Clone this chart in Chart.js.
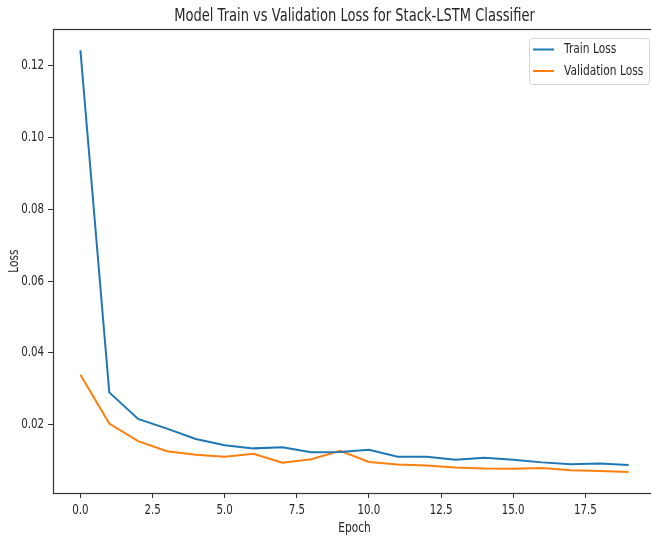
<!DOCTYPE html>
<html>
<head>
<meta charset="utf-8">
<script src="https://cdn.jsdelivr.net/npm/chart.js@4.4.0/dist/chart.umd.min.js"></script>
<style>
  html, body { margin: 0; padding: 0; background: #fff; overflow: hidden; width: 651px; height: 537px; }
  #wrap { position: absolute; left: 0; top: 0; width: 709px; height: 537px; }
</style>
</head>
<body>
<div id="wrap"><canvas id="c" width="709" height="537"></canvas></div>
<script>
const epochs = [0,1,2,3,4,5,6,7,8,9,10,11,12,13,14,15,16,17,18,19];
const trainLoss = [0.1243,0.0290,0.0216,0.0189,0.0160,0.0143,0.0134,0.0137,0.0123,0.0124,0.0130,0.0111,0.0111,0.0102,0.0108,0.0102,0.0095,0.0090,0.0092,0.0088];
const valLoss = [0.0339,0.0203,0.0154,0.0126,0.0116,0.0111,0.0119,0.0094,0.0104,0.0127,0.0096,0.0089,0.0086,0.0081,0.0078,0.0077,0.0079,0.0073,0.0071,0.0068];
const xTicks = [0, 2.5, 5, 7.5, 10, 12.5, 15, 17.5];
const yTicks = [0.02, 0.04, 0.06, 0.08, 0.10, 0.12];
const seriesNames = ['Train Loss', 'Validation Loss'];
const seriesColors = ['#1f77b4', '#ff7f0e'];

// The reference text is horizontally condensed; render text narrower.
const SX = 0.76;
(function () {
  const proto = CanvasRenderingContext2D.prototype;
  const fill = proto.fillText;
  const measure = proto.measureText;
  proto.fillText = function (t, x, y) {
    this.save();
    this.translate(x, y);
    this.scale(SX, 1);
    fill.call(this, t, 0, 0);
    this.restore();
  };
  proto.measureText = function (t) {
    const m = measure.call(this, t);
    return {
      width: m.width * SX,
      actualBoundingBoxAscent: m.actualBoundingBoxAscent,
      actualBoundingBoxDescent: m.actualBoundingBoxDescent,
      actualBoundingBoxLeft: m.actualBoundingBoxLeft * SX,
      actualBoundingBoxRight: m.actualBoundingBoxRight * SX
    };
  };
})();

const FONT = '"DejaVu Sans", sans-serif';
const TXT = '#262626';

const framePlugin = {
  id: 'frame',
  beforeDraw(chart) {
    const ctx = chart.ctx;
    ctx.save();
    ctx.fillStyle = '#fff';
    ctx.fillRect(0, 0, chart.width, chart.height);
    ctx.restore();
  },
  afterDraw(chart) {
    const ctx = chart.ctx;
    const a = chart.chartArea;
    ctx.save();
    ctx.strokeStyle = '#333';
    ctx.lineWidth = 1.2;
    ctx.strokeRect(Math.round(a.left) + 0.5, Math.round(a.top) + 0.5, Math.round(a.right - a.left), Math.round(a.bottom - a.top));
    // legend box
    const lx = 529, ly = 38, lw = 120, lh = 46;
    ctx.fillStyle = 'rgba(255,255,255,0.9)';
    ctx.strokeStyle = '#d6d6d6';
    ctx.lineWidth = 1;
    ctx.beginPath();
    if (ctx.roundRect) ctx.roundRect(lx + 0.5, ly + 0.5, lw, lh, 3); else ctx.rect(lx + 0.5, ly + 0.5, lw, lh);
    ctx.fill();
    ctx.stroke();
    ctx.font = '14px ' + FONT;
    ctx.textBaseline = 'middle';
    ctx.textAlign = 'left';
    chart.data.datasets.forEach((ds, i) => {
      const y = 49.5 + i * 21.5;
      ctx.strokeStyle = ds.borderColor;
      ctx.lineWidth = 2;
      ctx.beginPath();
      ctx.moveTo(533, y);
      ctx.lineTo(554, y);
      ctx.stroke();
      ctx.fillStyle = TXT;
      ctx.fillText(ds.label, 564, y);
    });
    ctx.restore();
  }
};

new Chart(document.getElementById('c'), {
  type: 'line',
  data: {
    datasets: [
      { label: seriesNames[0], data: epochs.map((e, i) => ({ x: e, y: trainLoss[i] })), borderColor: seriesColors[0], backgroundColor: seriesColors[0], borderWidth: 2, pointRadius: 0, tension: 0 },
      { label: seriesNames[1], data: epochs.map((e, i) => ({ x: e, y: valLoss[i] })), borderColor: seriesColors[1], backgroundColor: seriesColors[1], borderWidth: 2, pointRadius: 0, tension: 0 }
    ]
  },
  options: {
    responsive: false,
    animation: false,
    devicePixelRatio: 1,
    layout: { padding: { left: 0, right: 53, top: 0, bottom: 0 } },
    plugins: {
      legend: { display: false },
      tooltip: { enabled: false },
      title: {
        display: true,
        fullSize: false,
        text: 'Model Train vs Validation Loss for Stack-LSTM Classifier',
        color: TXT,
        font: { family: FONT, size: 17.2, weight: 'normal', lineHeight: 1.2 },
        padding: { top: 6.2, bottom: 2.2 }
      }
    },
    scales: {
      x: {
        type: 'linear',
        min: -0.95,
        max: 19.95,
        afterFit(s) { s.height = 44; },
        afterBuildTicks(s) { s.ticks = xTicks.map(v => ({ value: v })); },
        grid: { display: true, drawOnChartArea: false, drawTicks: true, tickLength: 5, color: '#333', tickWidth: 1 },
        border: { display: true, color: '#333', width: 1 },
        ticks: { color: TXT, font: { family: FONT, size: 13.5 }, padding: 4, maxRotation: 0, autoSkip: false, callback: v => v.toFixed(1) },
        title: { display: true, text: 'Epoch', color: TXT, font: { family: FONT, size: 14 }, padding: { top: 0, bottom: 0 } }
      },
      y: {
        type: 'linear',
        min: 0.00097,
        max: 0.1302,
        afterFit(s) { s.width = 53; },
        afterBuildTicks(s) { s.ticks = yTicks.map(v => ({ value: v })); },
        grid: { display: true, drawOnChartArea: false, drawTicks: true, tickLength: 5, color: '#333', tickWidth: 1 },
        border: { display: true, color: '#333', width: 1 },
        ticks: { color: TXT, font: { family: FONT, size: 13.5 }, padding: 4, autoSkip: false, callback: v => v.toFixed(2) },
        title: { display: true, text: 'Loss', color: TXT, font: { family: FONT, size: 14 }, padding: { top: 6, bottom: 0 } }
      }
    }
  },
  plugins: [framePlugin]
});
</script>
</body>
</html>
